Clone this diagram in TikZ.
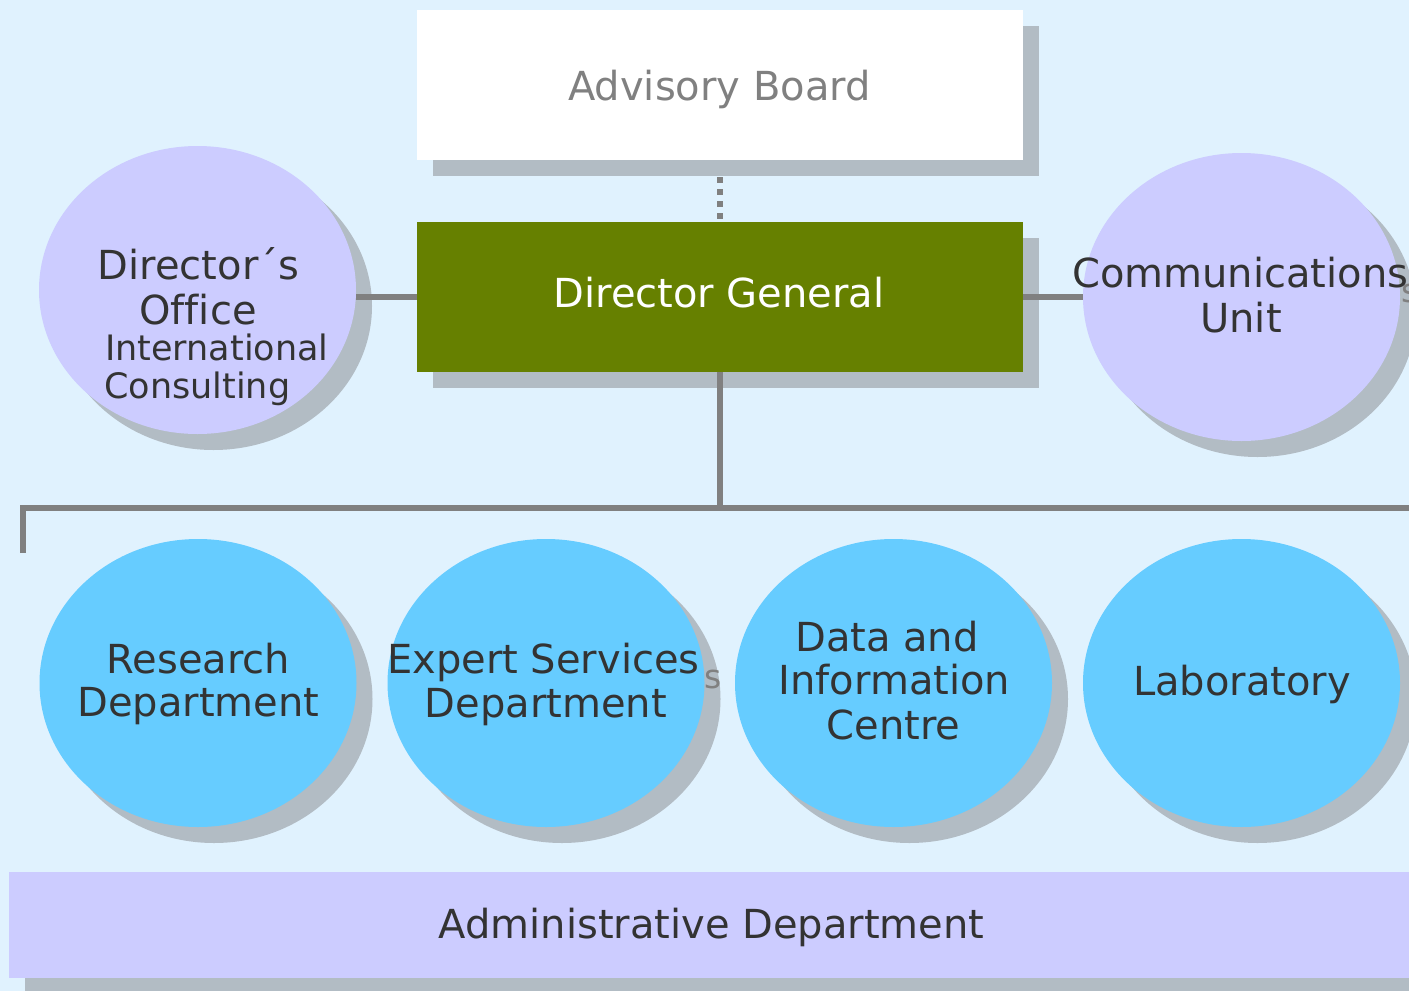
\documentclass[tikz,border=0pt]{standalone}
\usepackage{fontspec}
\setmainfont{DejaVu Sans}[Ligatures=CommonOff]
\usetikzlibrary{shapes.geometric,shadows}
\definecolor{bg}{RGB}{224,242,254}
\definecolor{shade}{RGB}{178,188,196}
\definecolor{lilac}{RGB}{204,204,255}
\definecolor{sky}{RGB}{102,204,255}
\definecolor{olive}{RGB}{102,128,0}
\definecolor{ink}{RGB}{51,51,51}
\definecolor{conn}{RGB}{128,128,128}
\begin{document}
\begin{tikzpicture}[x=1pt,y=-1pt,
  shad/.style={drop shadow={shadow xshift=16pt,shadow yshift=-16pt,fill=shade,opacity=1}},
  box/.style={rectangle,draw=none,minimum width=606pt,minimum height=150pt,inner sep=0pt,shad},
  oval/.style={ellipse,draw=none,minimum width=317pt,minimum height=288pt,inner sep=0pt,shad},
  txt/.style={font=\fontsize{40}{44}\selectfont,text=ink,inner sep=0pt,anchor=base},
  small/.style={font=\fontsize{35}{38}\selectfont,text=ink,inner sep=0pt,anchor=base west},
  ghost/.style={font=\fontsize{33}{36}\selectfont,text=conn,inner sep=0pt,anchor=base west},
  link/.style={draw=conn,line width=5.5pt}]
\useasboundingbox (0,0) rectangle (1409,991);
\clip (0,0) rectangle (1409,991);
\fill[bg] (0,0) rectangle (1409,991);

% boxes
\node[box,fill=white] (ab) at (720,85) {};
\node[box,fill=olive] (dg) at (720,297) {};
\node[rectangle,draw=none,fill=lilac,minimum width=1440pt,minimum height=106pt,inner sep=0pt,shad] (adm) at (729,925) {};

% ovals
\node[oval,fill=lilac] (dir) at (197.5,290) {};
\node[oval,fill=lilac] (com) at (1241.5,297) {};
\node[oval,fill=sky] (res) at (198,683) {};
\node[oval,fill=sky] (exp) at (546,683) {};
\node[oval,fill=sky] (dat) at (893.5,683) {};
\node[oval,fill=sky] (lab) at (1241.5,683) {};

% connectors
\draw[link,dash pattern=on 5.5pt off 6.5pt] ([yshift=-17pt]ab.south) -- (dg.north);
\draw[link] (dir.east |- dg.west) -- (dg.west);
\draw[link] (dg.east) -- (com.west);
\coordinate (busmid) at (720,508);
\coordinate (busl) at (23,508);
\coordinate (busr) at (1425,508);
\coordinate (drop) at (23,553);
\draw[link] (dg.south) -- (busmid);
\draw[link] (drop) -- (busl) -- (busr);

% ghost letters
\node[ghost] (g1) at (704,688) {s};
\node[ghost] (g2) at (1401,302) {s};

% texts
\node[txt,text=conn] (tab) at (719.5,100) {Advisory Board};
\node[txt,text=white] (tdg) at (719,307) {Director General};
\node[txt] (tdir1) at (198.5,279) {Director´s};
\node[txt] (tdir2) at (198,324) {Office};
\node[small] (tdir3) at (105,360) {International};
\node[small] (tdir4) at (104,398) {Consulting};
\node[txt,anchor=base west] (tcom1) at (1072,287) {Communications};
\node[txt] (tcom2) at (1241,332) {Unit};
\node[txt] (tres1) at (198.5,673) {Research};
\node[txt] (tres2) at (198.5,716) {Department};
\node[txt,anchor=base west] (texp1) at (387,673) {Expert Services};
\node[txt] (texp2) at (546,717) {Department};
\node[txt] (tdat1) at (887,651) {Data and};
\node[txt] (tdat2) at (894.5,694) {Information};
\node[txt] (tdat3) at (893.5,739) {Centre};
\node[txt] (tlab) at (1242,695) {Laboratory};
\node[txt] (tadm) at (711.5,938) {Administrative Department};
\end{tikzpicture}
\end{document}
